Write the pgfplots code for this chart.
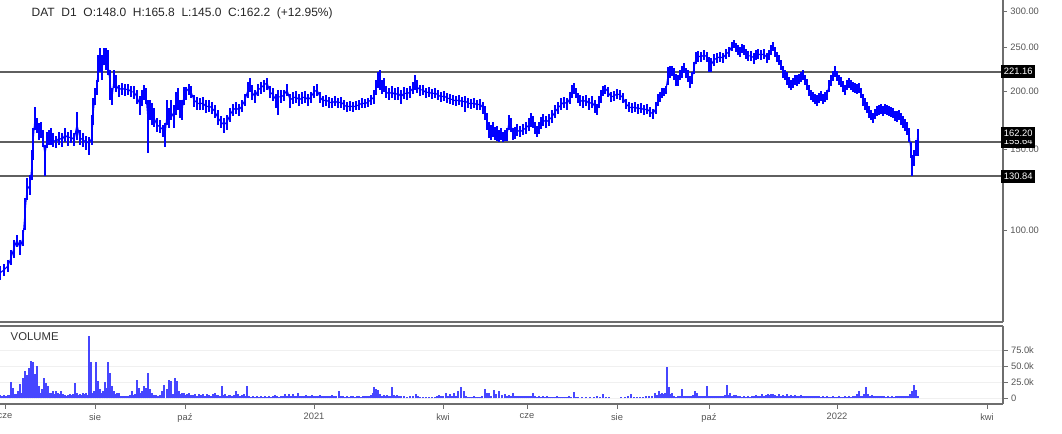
\documentclass[border=0pt]{standalone}
\usepackage{pgfplots}
\pgfplotsset{compat=1.18}
\usepackage{pgfplotstable}
\usepackage{fontspec}
\setmainfont{Liberation Sans}
\definecolor{pblue}{RGB}{0,0,255}
\definecolor{vblue}{RGB}{70,70,255}
\definecolor{axgray}{RGB}{110,110,110}
\definecolor{lblgray}{RGB}{85,85,85}
\definecolor{lvl}{RGB}{95,95,95}

\pgfplotstableread{
x lo c hi
0 77.8 80.6 83.5
4 79.4 81.8 84.3
8 81.0 83.5 86.0
11 83.9 86.9 90.4
14 86.9 91.3 95.1
17 91.9 95.1 97.5
20 88.2 91.3 95.1
23 92.3 96.1 100.0
25 100.0 108.9 117.4
27 116.2 122.2 129.8
30 119.2 125.3 131.8
32 128.5 138.6 149.4
33 142.1 155.5 166.8
35 165.2 175.4 185.4
37 162.7 169.4 175.4
39 157.1 163.5 171.1
41 158.7 165.2 171.9
43 151.7 157.1 165.2
45 130.8 145.7 153.2
47 150.9 157.1 163.5
49 153.2 159.5 165.2
51 153.2 158.7 166.8
53 151.7 157.1 162.7
56 150.9 155.5 160.3
59 153.2 158.7 163.5
62 151.7 157.1 162.7
65 155.5 161.1 166.8
68 152.5 158.7 163.5
71 154.7 159.5 165.2
74 152.5 157.1 162.7
77 157.1 169.4 180.8
80 153.2 158.7 165.2
83 151.7 157.1 162.7
86 149.4 155.5 160.3
89 145.7 154.7 159.5
92 153.2 158.7 178.1
93 169.4 178.1 193.9
95 187.2 196.9 203.9
97 196.9 203.9 212.3
98 210.2 223.2 240.6
100 221.0 232.3 249.2
102 212.3 223.2 240.6
104 228.8 240.6 249.2
106 223.2 237.0 249.2
108 217.7 228.8 246.7
110 192.0 210.2 223.2
112 187.2 193.9 203.9
114 203.9 212.3 223.2
116 199.9 207.0 217.7
119 194.9 201.9 207.0
122 196.9 203.9 209.1
125 195.9 201.9 208.1
128 196.9 202.9 208.1
131 194.9 199.9 206.0
134 193.0 199.9 206.0
137 188.2 194.9 201.9
140 178.1 187.2 195.9
142 186.3 193.9 201.9
144 192.0 198.9 207.0
146 188.2 196.9 203.9
148 147.2 173.7 192.0
150 173.7 182.6 192.0
152 169.4 179.9 189.1
154 167.7 175.4 184.4
157 163.5 169.4 175.4
160 162.7 167.7 173.7
163 159.5 165.2 169.4
165 151.7 161.1 171.1
167 169.4 178.1 192.0
169 166.8 175.4 184.4
171 173.7 180.8 192.0
174 166.8 175.4 187.2
176 178.1 187.2 199.9
178 182.6 192.0 203.9
180 175.4 182.6 192.0
182 173.7 180.8 192.0
184 187.2 196.9 204.9
186 192.0 199.9 204.9
189 196.9 203.9 208.1
191 193.9 199.9 206.0
194 185.4 192.0 196.9
197 182.6 189.1 194.9
200 182.6 188.2 193.9
203 182.6 189.1 194.9
206 179.9 185.4 192.0
209 180.8 186.3 192.0
212 179.0 184.4 190.1
215 175.4 180.8 187.2
218 169.4 175.4 182.6
221 166.8 171.9 177.2
224 162.7 169.4 175.4
227 165.2 171.9 178.1
230 171.9 178.1 184.4
233 177.2 182.6 188.2
236 179.0 184.4 190.1
239 177.2 182.6 188.2
242 180.8 186.3 192.0
245 186.3 192.0 197.9
248 193.9 201.9 210.2
250 199.9 207.0 214.4
252 192.0 199.9 207.0
255 189.1 194.9 201.9
258 195.9 201.9 208.1
261 197.9 203.9 210.2
264 199.9 207.0 212.3
267 201.9 209.1 214.4
270 193.9 199.9 206.0
273 191.0 196.9 203.9
276 184.4 192.0 197.9
278 178.1 194.9 201.9
281 189.1 194.9 201.9
284 191.0 196.9 201.9
287 195.9 201.9 208.1
290 184.4 192.0 197.9
293 188.2 193.9 199.9
296 189.1 194.9 200.9
299 186.3 192.0 197.9
302 188.2 193.9 199.9
305 189.1 194.9 200.9
308 186.3 192.0 197.9
311 189.1 194.9 199.9
314 193.9 199.9 206.0
317 195.9 201.9 208.1
320 189.1 194.9 199.9
323 185.4 191.0 195.9
326 186.3 192.0 196.9
329 184.4 190.1 194.9
332 184.4 189.1 193.9
335 186.3 191.0 195.9
338 184.4 189.1 193.9
341 184.4 190.1 194.9
344 182.6 187.2 192.0
347 180.8 185.4 190.1
350 181.7 186.3 191.0
353 180.8 185.4 190.1
356 182.6 186.3 191.0
359 182.6 187.2 192.0
362 184.4 189.1 193.9
365 184.4 188.2 193.0
368 185.4 190.1 193.9
371 187.2 192.0 196.9
374 188.2 194.9 201.9
376 196.9 203.9 212.3
378 203.9 212.3 221.0
380 201.9 210.2 223.2
382 197.9 203.9 212.3
384 199.9 207.0 214.4
386 193.9 199.9 206.0
389 192.0 197.9 203.9
392 193.9 199.9 206.0
395 192.0 196.9 203.9
398 192.0 198.9 204.9
401 188.2 194.9 201.9
404 193.0 198.9 204.9
407 192.0 197.9 203.9
410 193.9 199.9 206.0
413 197.9 203.9 210.2
415 201.9 210.2 217.7
417 198.9 204.9 212.3
420 195.9 201.9 207.0
423 196.9 201.9 207.0
426 193.9 198.9 203.9
429 194.9 199.9 204.9
432 193.0 197.9 202.9
435 193.9 198.9 203.9
438 192.0 196.9 201.9
441 190.1 194.9 199.9
444 191.0 195.9 200.9
447 189.1 193.9 198.9
450 188.2 193.0 197.9
453 187.2 192.0 196.9
456 186.3 191.0 195.9
459 187.2 192.0 196.9
462 185.4 190.1 194.9
465 180.8 191.0 195.9
468 184.4 189.1 193.9
471 183.5 188.2 193.0
474 184.4 189.1 193.9
477 182.6 187.2 192.0
480 182.6 188.2 193.0
483 179.0 184.4 190.1
485 173.7 179.9 186.3
487 165.2 171.9 179.9
489 158.7 165.2 171.9
491 157.1 162.7 169.4
493 159.5 165.2 171.9
495 157.1 161.1 167.7
497 156.3 162.7 168.5
499 155.5 159.5 165.2
501 157.1 161.1 166.8
503 155.5 158.7 163.5
505 156.3 160.3 165.2
507 156.3 161.1 166.8
509 165.2 171.9 178.1
511 163.5 169.4 175.4
513 157.1 161.1 166.8
515 157.9 162.7 167.7
517 160.3 165.2 170.2
520 159.5 163.5 168.5
523 161.1 165.2 170.2
526 161.9 166.8 171.9
529 164.3 169.4 175.4
531 167.7 173.7 179.9
533 166.8 171.9 177.2
535 161.9 166.8 171.9
537 159.5 163.5 168.5
539 161.9 166.8 171.9
541 166.0 171.1 176.3
543 168.5 173.7 179.0
546 166.8 171.9 177.2
549 168.5 173.7 179.0
552 171.1 176.3 182.6
555 175.4 180.8 187.2
558 179.0 184.4 190.1
561 182.6 187.2 193.9
564 184.4 190.1 194.9
567 182.6 188.2 193.9
570 188.2 193.9 199.9
572 193.9 199.9 207.0
574 197.9 203.9 209.1
576 193.9 198.9 203.9
578 189.1 193.9 198.9
580 186.3 192.0 196.9
583 184.4 190.1 195.9
586 186.3 192.0 196.9
589 182.6 188.2 193.9
592 184.4 190.1 195.9
595 179.9 185.4 192.0
597 178.1 182.6 188.2
599 184.4 190.1 195.9
601 189.1 194.9 201.9
603 195.9 201.9 206.0
605 197.9 203.9 207.0
608 194.9 199.9 204.9
611 190.1 194.9 199.9
614 191.0 195.9 200.9
617 193.0 197.9 202.9
620 192.0 196.9 201.9
623 189.1 193.9 198.9
626 183.5 188.2 193.0
629 180.8 185.4 190.1
632 179.9 184.4 189.1
635 180.8 185.4 190.1
638 179.0 183.5 188.2
641 179.9 184.4 189.1
644 178.1 182.6 187.2
647 179.0 183.5 188.2
650 176.3 180.8 185.4
653 174.5 179.0 183.5
656 179.0 184.4 190.1
658 186.3 192.0 197.9
660 190.1 194.9 199.9
662 193.9 198.9 203.9
664 195.9 199.9 203.9
666 197.9 201.9 206.0
668 207.0 216.6 226.5
670 214.4 221.0 227.7
672 216.6 222.1 227.7
674 212.3 218.8 225.4
676 206.0 212.3 218.8
678 206.0 211.2 217.7
680 212.3 217.7 223.2
682 214.4 221.0 227.7
684 219.9 225.4 231.2
686 214.4 219.9 225.4
688 210.2 216.6 223.2
690 203.9 210.2 216.6
692 208.1 214.4 221.0
694 218.8 225.4 232.3
696 229.9 237.0 244.3
698 232.3 239.4 245.5
701 232.3 238.2 244.3
704 234.7 240.6 246.7
707 232.3 238.2 244.3
709 221.0 231.1 238.2
711 221.0 228.8 237.0
714 227.7 234.7 241.8
717 231.2 237.0 243.1
720 232.3 238.2 244.3
723 231.2 237.0 243.1
726 235.8 241.8 247.9
729 238.2 244.3 250.5
732 245.5 251.8 256.9
734 249.2 254.3 259.4
736 244.3 250.5 255.6
738 240.6 246.7 253.0
740 238.2 244.3 250.5
742 243.1 249.2 254.3
744 240.6 246.7 253.0
746 235.8 241.8 247.9
748 233.5 239.4 245.5
751 233.5 239.4 245.5
754 229.9 237.0 243.1
756 234.7 240.6 246.7
758 235.8 241.8 247.9
761 234.7 240.6 246.7
764 235.8 241.8 247.9
767 231.2 237.0 243.1
769 234.7 240.6 246.7
771 240.6 246.7 253.0
773 245.5 251.8 256.9
775 238.2 244.3 250.5
777 232.3 238.2 244.3
779 228.8 234.7 240.6
781 223.2 228.8 234.7
783 214.4 221.0 227.7
785 212.3 217.7 223.2
787 207.0 214.4 221.0
789 203.9 209.1 215.5
791 201.9 207.0 212.3
793 203.9 208.1 214.4
795 207.0 212.3 217.7
797 206.0 212.3 217.7
799 208.1 213.4 218.8
801 210.2 215.5 221.0
803 212.3 217.7 223.2
805 207.0 212.3 217.7
807 201.9 208.1 213.4
809 195.9 201.9 207.0
811 192.0 196.9 201.9
813 190.1 194.9 199.9
815 188.2 193.0 197.9
817 186.3 192.0 196.9
819 189.1 193.9 198.9
821 191.0 195.9 200.9
823 188.2 193.0 197.9
825 190.1 194.9 199.9
827 192.0 196.9 201.9
829 199.9 206.0 212.3
831 206.0 212.3 217.7
833 211.2 216.6 222.1
835 215.5 222.1 227.7
837 211.2 216.6 222.1
839 207.0 212.3 217.7
841 204.9 210.2 215.5
843 199.9 206.0 211.2
845 196.9 201.9 207.0
847 201.9 207.0 212.3
849 203.9 209.1 214.4
851 201.9 207.0 212.3
853 199.9 204.9 210.2
855 198.9 203.9 209.1
857 197.9 202.9 208.1
859 198.9 203.9 209.1
861 193.9 198.9 203.9
863 186.3 192.0 197.9
865 182.6 188.2 193.9
867 179.9 184.4 190.1
869 175.4 180.8 186.3
871 173.7 178.1 182.6
873 171.1 175.4 179.9
875 174.5 179.0 183.5
877 177.2 181.7 186.3
879 178.1 182.6 187.2
881 179.0 183.5 188.2
883 177.2 181.7 186.3
885 179.0 183.5 188.2
887 178.1 182.6 187.2
889 177.2 181.7 186.3
891 176.3 180.8 185.4
893 175.4 179.9 184.4
895 172.8 177.2 181.7
897 171.9 176.3 181.7
899 173.7 178.1 182.6
901 169.4 174.5 179.9
903 166.8 171.9 177.2
905 164.3 169.4 174.5
907 161.1 166.8 171.9
909 155.5 161.1 166.8
911 143.5 149.4 155.5
912 130.8 138.6 145.7
914 137.9 144.3 149.4
916 145.0 148.0 157.1
918 145.0 162.2 165.8
}\price

\pgfplotstableread{
x v
0 5
2 4
4 5
6 4
8 5
10 5
11 26
13 16
15 6
17 6
18 11
20 23
22 8
23 31
25 42
27 36
29 48
31 59
33 56
35 38
37 50
39 20
41 9
42 15
44 31
46 24
48 19
50 8
51 9
53 11
55 7
56 11
58 9
60 6
61 11
63 6
65 5
66 4
68 5
70 6
72 5
73 6
75 24
77 9
78 5
80 6
82 5
83 8
85 6
86 8
88 5
89 98
91 56
92 9
94 11
96 56
98 27
100 14
101 8
103 11
105 25
107 16
108 56
110 40
112 20
114 11
115 6
117 8
119 8
121 4
123 4
125 3
127 4
129 4
130 5
132 11
134 5
135 6
137 28
139 16
140 8
142 11
144 19
146 16
148 40
150 14
152 8
154 5
156 5
158 4
160 5
162 12
164 21
167 15
169 28
171 27
173 6
175 32
177 27
179 12
181 6
182 8
184 8
186 5
187 6
189 8
191 5
193 5
195 6
197 4
199 6
201 5
203 6
205 4
207 6
209 5
211 4
213 6
215 8
217 5
218 5
220 4
222 20
223 5
225 6
227 4
229 5
230 5
232 4
234 5
236 12
238 6
240 4
242 5
244 6
246 4
247 20
249 3
251 2
253 3
255 2
257 3
259 2
261 3
263 2
265 3
267 2
269 3
271 2
273 3
275 5
277 3
279 2
281 3
283 3
285 6
287 3
289 7
291 3
293 6
295 3
297 4
298 9
300 3
302 4
304 3
306 5
308 4
310 4
312 5
314 4
316 3
318 4
320 5
322 3
324 4
326 3
328 4
330 3
332 5
334 4
336 3
339 12
341 3
343 4
345 2
347 3
349 2
351 3
353 3
355 2
357 3
359 3
361 2
363 3
365 4
367 3
369 4
371 5
373 8
374 17
376 14
378 13
380 6
382 4
384 5
386 3
387 5
389 3
391 4
392 17
394 5
396 3
397 5
399 3
401 3
404 3
407 2
410 3
413 3
416 7
418 3
420 2
423 2
426 2
429 2
432 2
435 2
437 3
439 5
441 3
443 4
446 8
448 3
450 7
452 3
454 8
456 4
458 11
461 17
464 12
466 3
468 2
470 2
472 2
474 3
476 2
478 2
480 2
482 3
485 15
487 8
489 9
491 4
494 13
496 7
499 11
502 5
505 7
507 3
509 5
511 3
513 8
515 3
517 4
519 3
521 4
523 3
525 4
527 3
529 4
531 3
533 8
535 3
537 2
539 3
541 2
543 3
545 2
547 3
549 2
551 2
553 2
555 2
557 3
559 2
561 2
563 2
565 2
567 2
569 3
571 2
574 10
576 2
578 2
582 2
586 2
590 2
594 2
597 3
600 2
603 6
606 2
609 2
621 2
625 2
628 3
631 6
634 2
637 2
640 2
643 2
646 3
649 3
652 3
655 8
657 5
659 11
661 7
662 9
664 6
665 8
667 49
669 17
670 6
672 8
674 3
676 2
678 3
680 4
682 15
684 3
686 4
688 3
690 4
692 3
693 5
695 11
697 8
699 3
701 4
703 3
705 4
707 20
709 4
711 3
713 4
715 4
717 3
719 4
721 3
723 4
725 5
727 21
729 5
730 8
732 4
734 5
736 5
738 3
740 3
742 2
744 3
746 2
748 3
750 2
752 4
754 3
756 5
758 3
760 4
762 6
764 4
766 5
768 6
770 5
771 7
773 6
775 5
777 4
779 6
781 4
783 5
785 4
787 6
789 4
791 5
793 3
795 5
797 4
799 3
801 5
803 4
805 3
807 4
809 3
811 4
813 3
815 3
817 4
819 3
821 2
823 3
825 2
827 3
829 2
831 2
833 3
835 2
837 2
839 3
841 2
843 2
845 3
847 2
849 3
851 2
853 3
855 4
857 6
859 11
861 4
863 3
864 6
866 17
868 6
870 4
872 5
874 4
876 3
878 4
880 3
882 4
884 3
886 2
888 3
890 2
892 3
894 2
896 3
898 4
900 3
902 4
904 3
906 4
908 4
910 6
912 12
914 21
916 13
918 4
}\vol

\pgfplotstableread{
x p
0 221.16
1003 221.16
}\lvA
\pgfplotstableread{
x p
0 155.64
1003 155.64
}\lvB
\pgfplotstableread{
x p
0 130.84
1003 130.84
}\lvC

\begin{document}
\begin{tikzpicture}
\path[use as bounding box] (0pt,0pt) rectangle (796.5pt,325.5pt);
% ---------- price panel (log price scale, plotted as ln of price) ----------
\begin{axis}[
  at={(0pt,84pt)}, anchor=south west, scale only axis,
  width=752.25pt, height=241.5pt,
  xmin=0, xmax=1003, ymin=4.1431, ymax=5.7589,
  axis x line=none, axis y line*=right,
  y axis line style={-, axgray, line width=0.9pt},
  ytick={4.60517,5.01064,5.29832,5.52146,5.70378},
  yticklabels={100.00,150.00,200.00,250.00,300.00},
  yticklabel style={font=\fontsize{7}{8}\selectfont, text=lblgray, xshift=-1pt},
  ytick style={axgray, line width=0.6pt},
  tick align=outside, major tick length=3pt,
  clip=false,
]
\draw[axgray, line width=0.8pt] (rel axis cs:0,0) -- (rel axis cs:1,0);
\addplot[lvl, line width=1.6pt, forget plot] table[x=x, y expr={ln(\thisrow{p})}] {\lvA};
\addplot[lvl, line width=1.6pt, forget plot] table[x=x, y expr={ln(\thisrow{p})}] {\lvB};
\addplot[lvl, line width=1.6pt, forget plot] table[x=x, y expr={ln(\thisrow{p})}] {\lvC};
\addplot[pblue, line width=0.8pt, mark=none,
  error bars/.cd, y dir=both, y explicit, error mark=none,
  error bar style={pblue, line width=0.9pt}]
  table[x=x, y expr={ln(\thisrow{c})},
        y error plus expr={ln(\thisrow{hi})-ln(\thisrow{c})},
        y error minus expr={ln(\thisrow{c})-ln(\thisrow{lo})}] {\price};
\coordinate (LA) at (axis cs:1001,5.39888);
\coordinate (LB) at (axis cs:1001,5.04754);
\coordinate (LC) at (axis cs:1001,5.08883);
\coordinate (LD) at (axis cs:1001,4.87397);
\end{axis}
% ---------- volume panel ----------
\begin{axis}[
  at={(0pt,22.5pt)}, anchor=south west, scale only axis,
  width=752.25pt, height=58.5pt,
  xmin=0, xmax=1003, ymin=-8.9, ymax=113,
  axis x line*=bottom, axis y line*=right,
  axis line style={-, axgray, line width=0.9pt},
  xtick={5,95,185,314,443,527,617,709,837,987},
  xticklabels={cze,sie,paź,2021,kwi,cze,sie,paź,2022,kwi},
  ytick={0,25,50,75},
  yticklabels={0,25.0k,50.0k,75.0k},
  ymajorgrids, grid style={gray!12},
  ticklabel style={font=\fontsize{7}{8}\selectfont, text=lblgray},
  xticklabel style={yshift=0pt},
  yticklabel style={xshift=-1pt},
  tick style={axgray, line width=0.6pt},
  tick align=outside, major tick length=3.5pt,
  clip=false,
]
\draw[axgray, line width=0.8pt] (rel axis cs:0,1) -- (rel axis cs:1,1);
\addplot[ycomb, vblue, line width=0.8pt, mark=none] table[x=x, y=v] {\vol};
\node[anchor=west, font=\fontsize{8.5}{10}\selectfont, text=black!80] at (rel axis cs:0.006,0.86) {VOLUME};
\end{axis}
% ---------- price label boxes ----------
\tikzset{plbl/.style={anchor=west, fill=black, text=white, font=\fontsize{7}{8}\selectfont, inner xsep=2pt, inner ysep=2.2pt}}
\node[plbl] at (LA) {221.16};
\node[plbl] at (LB) {155.64};
\node[plbl] at (LC) {162.20};
\node[plbl] at (LD) {130.84};
% ---------- title ----------
\node[anchor=west, font=\fontsize{9}{10}\selectfont, text=black!85] at (20.25pt,315.75pt) {DAT\ \ D1\ \ O:148.0\ \ H:165.8\ \ L:145.0\ \ C:162.2\ \ (+12.95\%)};
\end{tikzpicture}
\end{document}
